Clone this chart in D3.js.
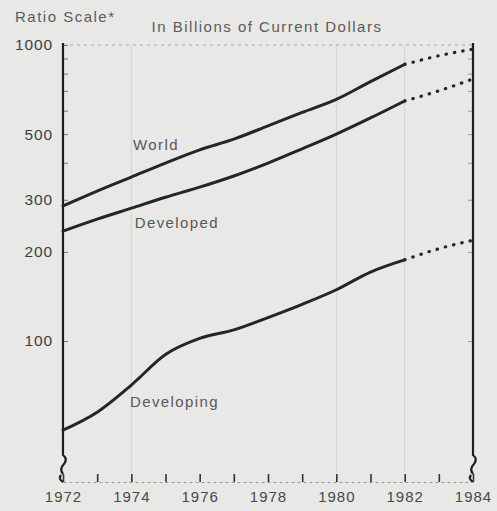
<!DOCTYPE html>
<html>
<head>
<meta charset="utf-8">
<script src="https://cdn.jsdelivr.net/npm/d3@7"></script>
<style>
  html, body { margin: 0; padding: 0; background: #e8e8e6; }
  svg { display: block; }
  text { font-family: "Liberation Sans", Arial, sans-serif; }
</style>
</head>
<body>
<svg id="chart" width="497" height="511"></svg>
<script>
// ---- Data ----
const years = [1972, 1973, 1974, 1975, 1976, 1977, 1978, 1979, 1980, 1981, 1982, 1983, 1984];
const world      = [286, 321, 358, 399, 442, 481, 533, 592, 655, 752, 860, 920, 968];
const developed  = [235, 258, 281, 306, 331, 361, 399, 446, 500, 567, 647, 700, 768];
const developing = [50, 57.5, 71, 90, 102, 109, 120, 133, 149, 171, 188, 205, 219];
const lastActualYear = 1982;

const seriesNames = ["World", "Developed", "Developing"];
const majorTicks = [100, 200, 300, 500, 1000];
const minorTicks = [400, 600, 700, 800, 900];
const rightTicks = [100, 200, 300, 400, 500, 600, 700, 800, 900];
const xLabelYears = [1972, 1974, 1976, 1978, 1980, 1982, 1984];
const gridYears = [1974, 1980, 1982];

const titleLeft = "Ratio Scale*";
const titleCenter = "In Billions of Current Dollars";

// ---- Layout ----
const svg = d3.select("#chart");
const mLeft = 63, mRight = 473, mTop = 45, axisBottomY = 482;

const x = d3.scaleLinear().domain([1972, 1984]).range([mLeft, mRight]);
const y = d3.scaleLog().domain([100, 1000]).range([341, mTop]);

// background
svg.append("rect").attr("width", 497).attr("height", 511).attr("fill", "#e8e8e6");

// faint gridlines
svg.append("g").selectAll("line").data(gridYears).join("line")
  .attr("x1", d => x(d)).attr("x2", d => x(d))
  .attr("y1", y(1000)).attr("y2", axisBottomY - 10)
  .attr("stroke", "#d4d4d2").attr("stroke-width", 1);

svg.append("line")
  .attr("x1", mLeft).attr("x2", mRight)
  .attr("y1", y(1000)).attr("y2", y(1000))
  .attr("stroke", "#a8a8a6").attr("stroke-width", 1)
  .attr("stroke-dasharray", "3,4");

// ---- Left axis ----
const leftAxis = d3.axisLeft(y)
  .tickValues(majorTicks.concat(minorTicks))
  .tickSizeInner(-5).tickSizeOuter(0).tickPadding(10)
  .tickFormat(d => majorTicks.includes(d) ? String(d) : "");
const gl = svg.append("g").attr("transform", `translate(${mLeft},0)`).call(leftAxis);
gl.select(".domain").remove();
gl.selectAll(".tick line").attr("stroke", "#777").attr("stroke-width", 1);
gl.selectAll(".tick text").attr("font-size", 15.5).attr("fill", "#3e3e3e")
  .attr("font-family", "Liberation Sans, Arial, sans-serif")
  .attr("letter-spacing", "0.9px");

// ---- Right axis ticks ----
const rightAxis = d3.axisRight(y).tickValues(rightTicks)
  .tickSizeInner(-5).tickSizeOuter(0).tickFormat("");
const gr = svg.append("g").attr("transform", `translate(${mRight},0)`).call(rightAxis);
gr.select(".domain").remove();
gr.selectAll(".tick line").attr("stroke", "#999").attr("stroke-width", 1);

// vertical axis lines with break squiggles
const breakTop = 455;
function axisWithBreak(xp) {
  const p = d3.path();
  p.moveTo(xp, mTop - 2);
  p.lineTo(xp, breakTop);
  p.quadraticCurveTo(xp + 5, breakTop + 4, xp + 1, breakTop + 9);
  p.quadraticCurveTo(xp - 4, breakTop + 14, xp, breakTop + 19);
  p.moveTo(xp - 2, breakTop + 20);
  p.quadraticCurveTo(xp - 5, breakTop + 24, xp, axisBottomY);
  return p.toString();
}
[mLeft, mRight].forEach(xp => {
  svg.append("path").attr("d", axisWithBreak(xp))
    .attr("fill", "none").attr("stroke", "#1e1e1e").attr("stroke-width", 2.2);
});

// ---- Bottom axis ----
const bottomAxis = d3.axisBottom(x)
  .tickValues(years)
  .tickSizeInner(-8).tickSizeOuter(0).tickPadding(9)
  .tickFormat(d => xLabelYears.includes(d) ? String(d) : "");
const gb = svg.append("g").attr("transform", `translate(0,${axisBottomY})`).call(bottomAxis);
gb.select(".domain").attr("stroke", "#9a9a98").attr("stroke-dasharray", "3,3");
gb.selectAll(".tick line").attr("stroke", "#333").attr("stroke-width", 1.6);
gb.selectAll(".tick text").attr("font-size", 15).attr("fill", "#484848")
  .attr("font-family", "Liberation Sans, Arial, sans-serif")
  .attr("letter-spacing", "1px");

// ---- Lines ----
const allSeries = [world, developed, developing];
const line = d3.line().x(d => x(d.year)).y(d => y(d.value)).curve(d3.curveMonotoneX);

allSeries.forEach((vals, i) => {
  const pts = years.map((yr, j) => ({ year: yr, value: vals[j] }));
  const actual = pts.filter(p => p.year <= lastActualYear);
  const proj = pts.filter(p => p.year >= lastActualYear);
  svg.append("path").datum(actual).attr("d", line)
    .attr("fill", "none").attr("stroke", "#252525").attr("stroke-width", 3)
    .attr("stroke-linecap", "round");
  svg.append("path").datum(proj).attr("d", line)
    .attr("fill", "none").attr("stroke", "#262626").attr("stroke-width", 3.2)
    .attr("stroke-linecap", "round").attr("stroke-dasharray", "0.5,8");
});

// ---- Series labels ----
const labelPos = [
  { name: seriesNames[0], year: 1974.05, value: 442 },
  { name: seriesNames[1], year: 1974.1, value: 241 },
  { name: seriesNames[2], year: 1973.96, value: 60 }
];
svg.append("g").selectAll("text").data(labelPos).join("text")
  .attr("x", d => x(d.year)).attr("y", d => y(d.value))
  .attr("font-size", 15).attr("fill", "#585858").attr("letter-spacing", "1.4px")
  .text(d => d.name);

// ---- Titles ----
svg.append("text").attr("x", 15).attr("y", 22)
  .attr("font-size", 15).attr("fill", "#5a5a5a").attr("letter-spacing", "1.5px")
  .text(titleLeft);
svg.append("text").attr("x", 267).attr("y", 32).attr("text-anchor", "middle")
  .attr("font-size", 15).attr("fill", "#5a5a5a").attr("letter-spacing", "1.5px")
  .text(titleCenter);
</script>
</body>
</html>
